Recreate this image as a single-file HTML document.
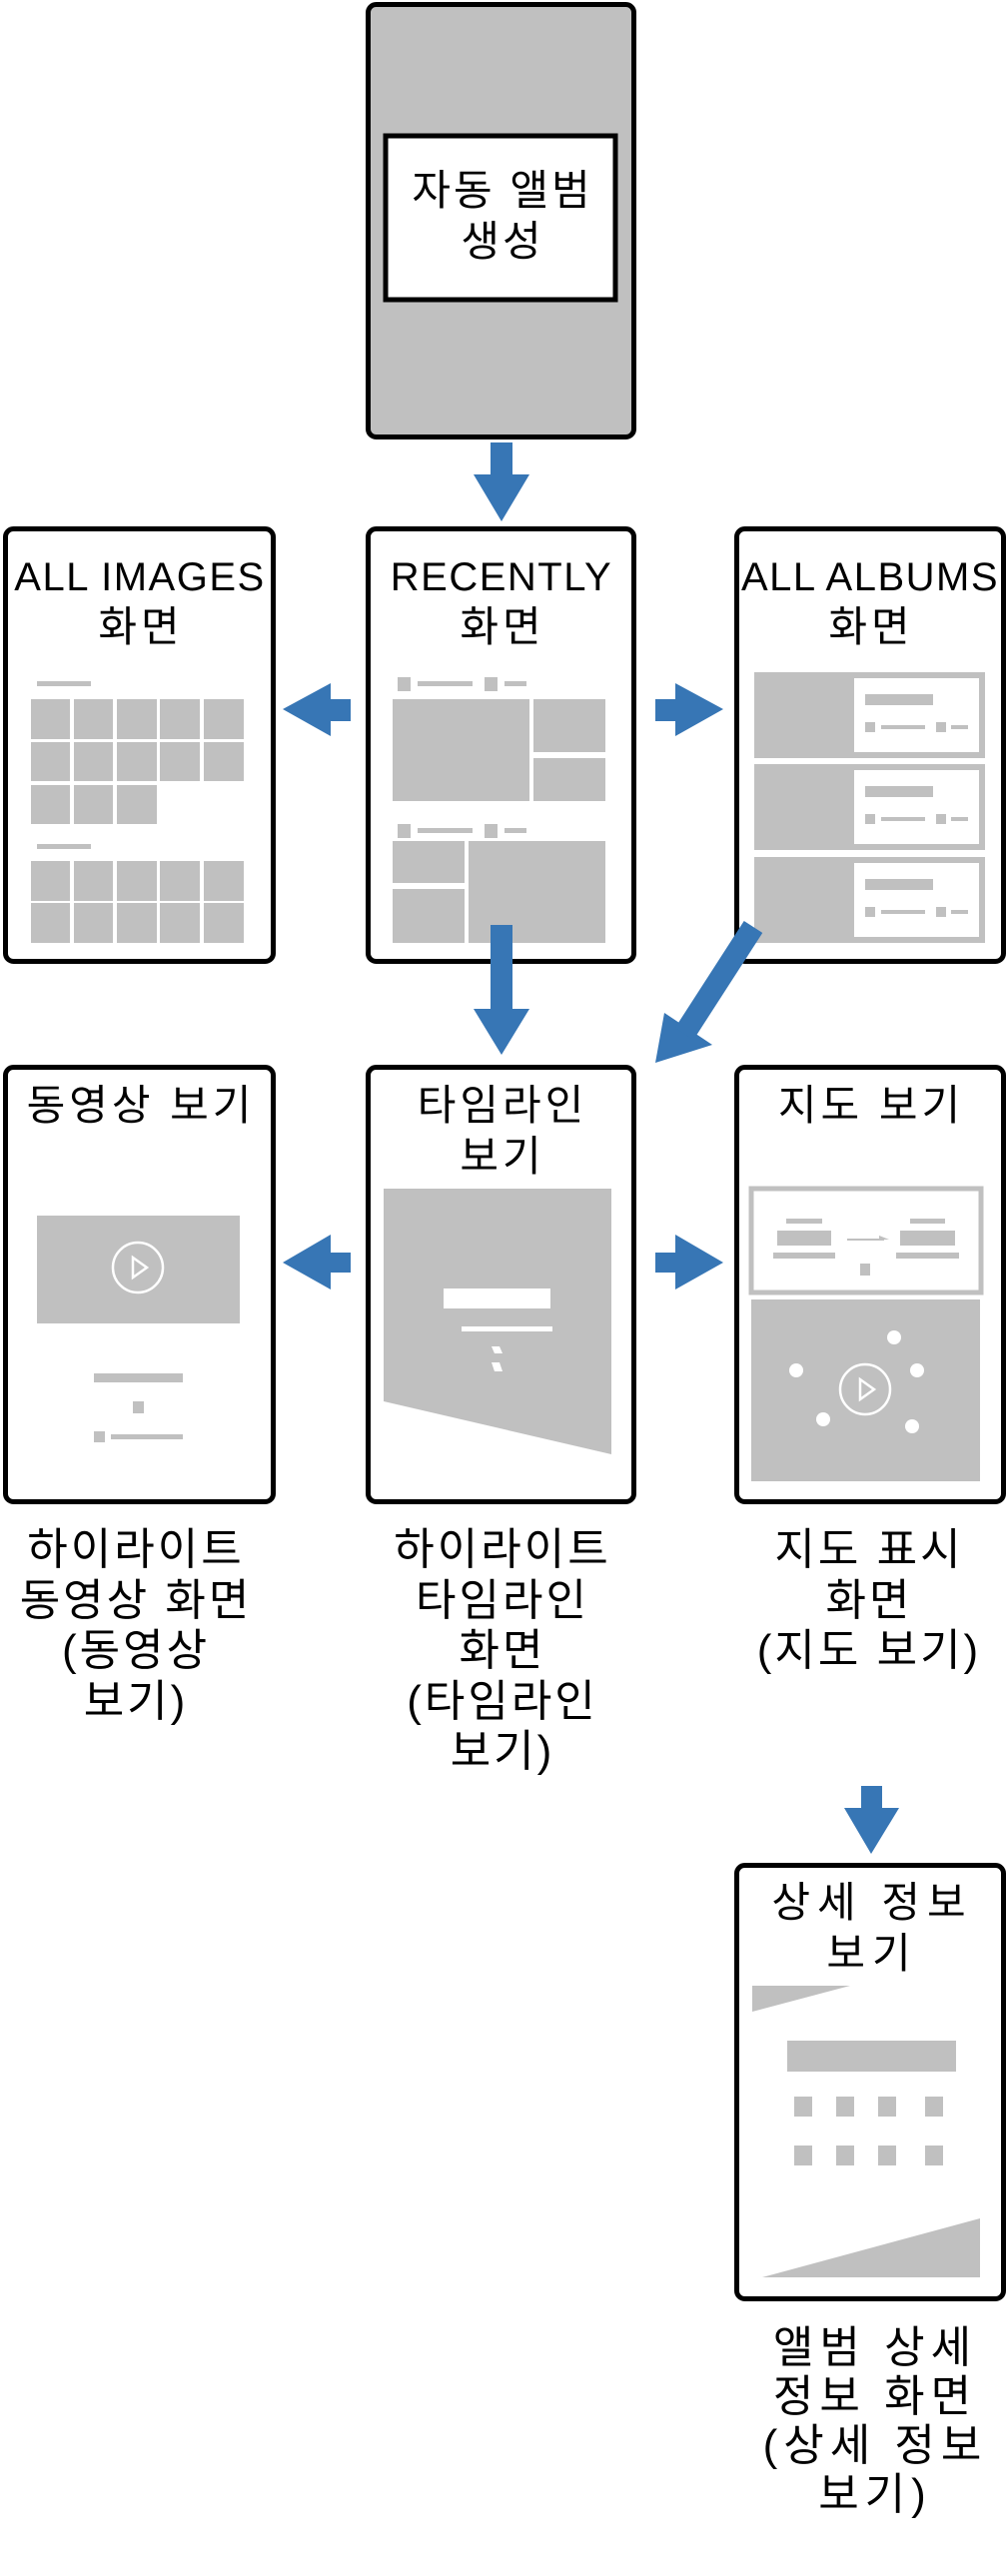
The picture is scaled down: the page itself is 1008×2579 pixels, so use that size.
<!DOCTYPE html>
<html><head><meta charset="utf-8"><style>
html,body{margin:0;padding:0;background:#fff}
svg{display:block}
text{font-family:"Liberation Sans","Noto Sans CJK KR",sans-serif;fill:#000;text-anchor:middle}
</style></head><body>
<svg width="1008" height="2579" viewBox="0 0 1008 2579" xmlns="http://www.w3.org/2000/svg">
<g fill="#c0c0c0">
<rect x="368.5" y="4.5" width="266" height="433" rx="8" fill="#c0c0c0" stroke="#000" stroke-width="5"/>
<rect x="386" y="136" width="230" height="164" fill="#fff" stroke="#000" stroke-width="5"/>
</g>
<g font-size="42" letter-spacing="3">
<text x="503" y="205">자동 앨범</text>
<text x="503" y="256">생성</text>
</g>

<g fill="#fff" stroke="#000" stroke-width="5">
<rect x="5.5" y="529.5" width="268" height="433" rx="8"/>
<rect x="368.5" y="529.5" width="266" height="433" rx="8"/>
<rect x="737.5" y="529.5" width="267" height="433" rx="8"/>
<rect x="5.5" y="1068.5" width="268" height="435" rx="8"/>
<rect x="368.5" y="1068.5" width="266" height="435" rx="8"/>
<rect x="737.5" y="1068.5" width="267" height="435" rx="8"/>
<rect x="737.5" y="1867.5" width="267" height="434" rx="8"/>
</g>
<g font-size="40" letter-spacing="1.5">
<text x="140" y="591">ALL IMAGES</text>
<text x="502" y="591">RECENTLY</text>
<text x="871" y="591">ALL ALBUMS</text>
</g>
<g font-size="42" letter-spacing="4">
<text x="141" y="642">화면</text>
<text x="503" y="642">화면</text>
<text x="872" y="642">화면</text>
<text x="141" y="1121">동영상 보기</text>
<text x="503" y="1121">타임라인</text><text x="503" y="1172">보기</text>
<text x="872" y="1121">지도 보기</text>
<text x="873" y="1919" letter-spacing="7">상세 정보</text><text x="873" y="1970" letter-spacing="7">보기</text>
</g>

<g fill="#c0c0c0">
<rect x="37" y="682" width="54" height="5"/>
<rect x="37" y="845" width="54" height="5"/>
<rect x="31" y="700" width="39" height="40"/><rect x="74" y="700" width="39" height="40"/><rect x="117" y="700" width="40" height="40"/><rect x="160" y="700" width="40" height="40"/><rect x="204" y="700" width="40" height="40"/>
<rect x="31" y="743" width="39" height="39"/><rect x="74" y="743" width="39" height="39"/><rect x="117" y="743" width="40" height="39"/><rect x="160" y="743" width="40" height="39"/><rect x="204" y="743" width="40" height="39"/>
<rect x="31" y="786" width="39" height="39"/><rect x="74" y="786" width="39" height="39"/><rect x="117" y="786" width="40" height="39"/>
<rect x="31" y="862" width="39" height="40"/><rect x="74" y="862" width="39" height="40"/><rect x="117" y="862" width="40" height="40"/><rect x="160" y="862" width="40" height="40"/><rect x="204" y="862" width="40" height="40"/>
<rect x="31" y="904" width="39" height="40"/><rect x="74" y="904" width="39" height="40"/><rect x="117" y="904" width="40" height="40"/><rect x="160" y="904" width="40" height="40"/><rect x="204" y="904" width="40" height="40"/>

<rect x="398" y="678" width="13" height="14"/><rect x="418" y="682" width="55" height="5"/><rect x="485" y="678" width="13" height="14"/><rect x="505" y="682" width="22" height="5"/>
<rect x="393" y="700" width="137" height="102"/><rect x="534" y="700" width="72" height="53"/><rect x="534" y="759" width="72" height="43"/>
<rect x="398" y="825" width="13" height="14"/><rect x="418" y="829" width="55" height="5"/><rect x="485" y="825" width="13" height="14"/><rect x="505" y="829" width="22" height="5"/>
<rect x="393" y="842" width="72" height="42"/><rect x="393" y="890" width="72" height="54"/><rect x="469" y="842" width="137" height="102"/>

<rect x="755" y="673" width="231" height="86"/><rect x="755" y="765" width="231" height="86"/><rect x="755" y="858" width="231" height="86"/>
</g>
<g fill="#fff">
<rect x="855" y="679" width="125" height="74"/><rect x="855" y="771" width="125" height="74"/><rect x="855" y="864" width="125" height="74"/>
</g>
<g fill="#c0c0c0">
<rect x="866" y="695" width="68" height="11"/><rect x="866" y="723" width="10" height="10"/><rect x="882" y="726" width="44" height="4"/><rect x="937" y="723" width="10" height="10"/><rect x="952" y="726" width="17" height="4"/>
<rect x="866" y="787" width="68" height="11"/><rect x="866" y="815" width="10" height="10"/><rect x="882" y="818" width="44" height="4"/><rect x="937" y="815" width="10" height="10"/><rect x="952" y="818" width="17" height="4"/>
<rect x="866" y="880" width="68" height="11"/><rect x="866" y="908" width="10" height="10"/><rect x="882" y="911" width="44" height="4"/><rect x="937" y="908" width="10" height="10"/><rect x="952" y="911" width="17" height="4"/>

<rect x="37" y="1217" width="203" height="108"/>
<rect x="94" y="1375" width="89" height="9"/><rect x="133" y="1403" width="11" height="12"/><rect x="94" y="1433" width="11" height="11"/><rect x="111" y="1436" width="72" height="5"/>

<polygon points="384,1190 612,1190 612,1456 384,1403"/>

<rect x="752" y="1190" width="230" height="104" fill="#fff" stroke="#c0c0c0" stroke-width="5"/>
<rect x="787" y="1220" width="36" height="5"/><rect x="778" y="1232" width="54" height="15"/><rect x="774" y="1254" width="62" height="6"/>
<rect x="911" y="1220" width="35" height="5"/><rect x="901" y="1232" width="55" height="15"/><rect x="897" y="1254" width="63" height="6"/>
<rect x="861" y="1265" width="10" height="12"/>
<rect x="752" y="1301" width="229" height="182"/>

<polygon points="753,1988 851,1988 753,2014"/>
<rect x="788" y="2043" width="169" height="31"/>
<rect x="795" y="2099" width="18" height="20"/><rect x="837" y="2099" width="18" height="20"/><rect x="879" y="2099" width="18" height="20"/><rect x="926" y="2099" width="18" height="20"/>
<rect x="795" y="2148" width="18" height="20"/><rect x="837" y="2148" width="18" height="20"/><rect x="879" y="2148" width="18" height="20"/><rect x="926" y="2148" width="18" height="20"/>
<polygon points="763,2280 981,2221 981,2280"/>
</g>
<circle cx="138" cy="1269" r="25" fill="none" stroke="#fff" stroke-width="2.5"/>
<polygon points="133,1259 133,1279 147,1269" fill="none" stroke="#fff" stroke-width="2.5"/>
<rect x="444" y="1290" width="107" height="20" fill="#fff"/>
<rect x="462" y="1328" width="91" height="5" fill="#fff"/>
<polygon points="492,1348 500,1348 503,1355 495,1355" fill="#fff"/>
<polygon points="492,1364 500,1364 503,1373 495,1373" fill="#fff"/>
<line x1="848" y1="1241" x2="885" y2="1241" stroke="#c0c0c0" stroke-width="2"/>
<polygon points="880,1237 890,1241 880,1241" fill="#c0c0c0"/>
<circle cx="866" cy="1391" r="25" fill="none" stroke="#fff" stroke-width="2.5"/>
<polygon points="861,1381 861,1401 875,1391" fill="none" stroke="#fff" stroke-width="2.5"/>
<g fill="#fff">
<circle cx="895" cy="1339" r="7"/><circle cx="797" cy="1372" r="7"/><circle cx="918" cy="1372" r="7"/><circle cx="824" cy="1421" r="7"/><circle cx="913" cy="1428" r="7"/>
</g>

<g fill="#3776b5">
<polygon points="491,443 513,443 513,475 530,475 502,522 474,475 491,475"/>
<polygon points="491,926 513,926 513,1010 530,1010 502,1056 474,1010 491,1010"/>
<polygon points="862,1788 883,1788 883,1810 900,1810 872,1856 845,1810 862,1810"/>
<polygon points="351,700 331,700 331,684 283,710 331,737 331,722 351,722"/>
<polygon points="351,1254 331,1254 331,1236 283,1264 331,1291 331,1274 351,1274"/>
<polygon points="656,700 676,700 676,684 724,710 676,737 676,722 656,722"/>
<polygon points="656,1254 676,1254 676,1236 724,1264 676,1291 676,1274 656,1274"/>
<polygon points="713,1046 665,1014 656,1064"/>
</g>
<line x1="754" y1="928" x2="685" y2="1035" stroke="#3776b5" stroke-width="22"/>

<g font-size="44" letter-spacing="3">
<text x="136" y="1566">하이라이트</text><text x="136" y="1617">동영상 화면</text><text x="136" y="1667">(동영상</text><text x="136" y="1718">보기)</text>
<text x="503" y="1566">하이라이트</text><text x="503" y="1617">타임라인</text><text x="503" y="1667">화면</text><text x="503" y="1718">(타임라인</text><text x="503" y="1768">보기)</text>
<text x="870" y="1566">지도 표시</text><text x="870" y="1617">화면</text><text x="870" y="1667">(지도 보기)</text>
<text x="876" y="2365" letter-spacing="6">앨범 상세</text><text x="876" y="2414" letter-spacing="6">정보 화면</text><text x="876" y="2463" letter-spacing="6">(상세 정보</text><text x="876" y="2512" letter-spacing="6">보기)</text>
</g>
</svg>
</body></html>
